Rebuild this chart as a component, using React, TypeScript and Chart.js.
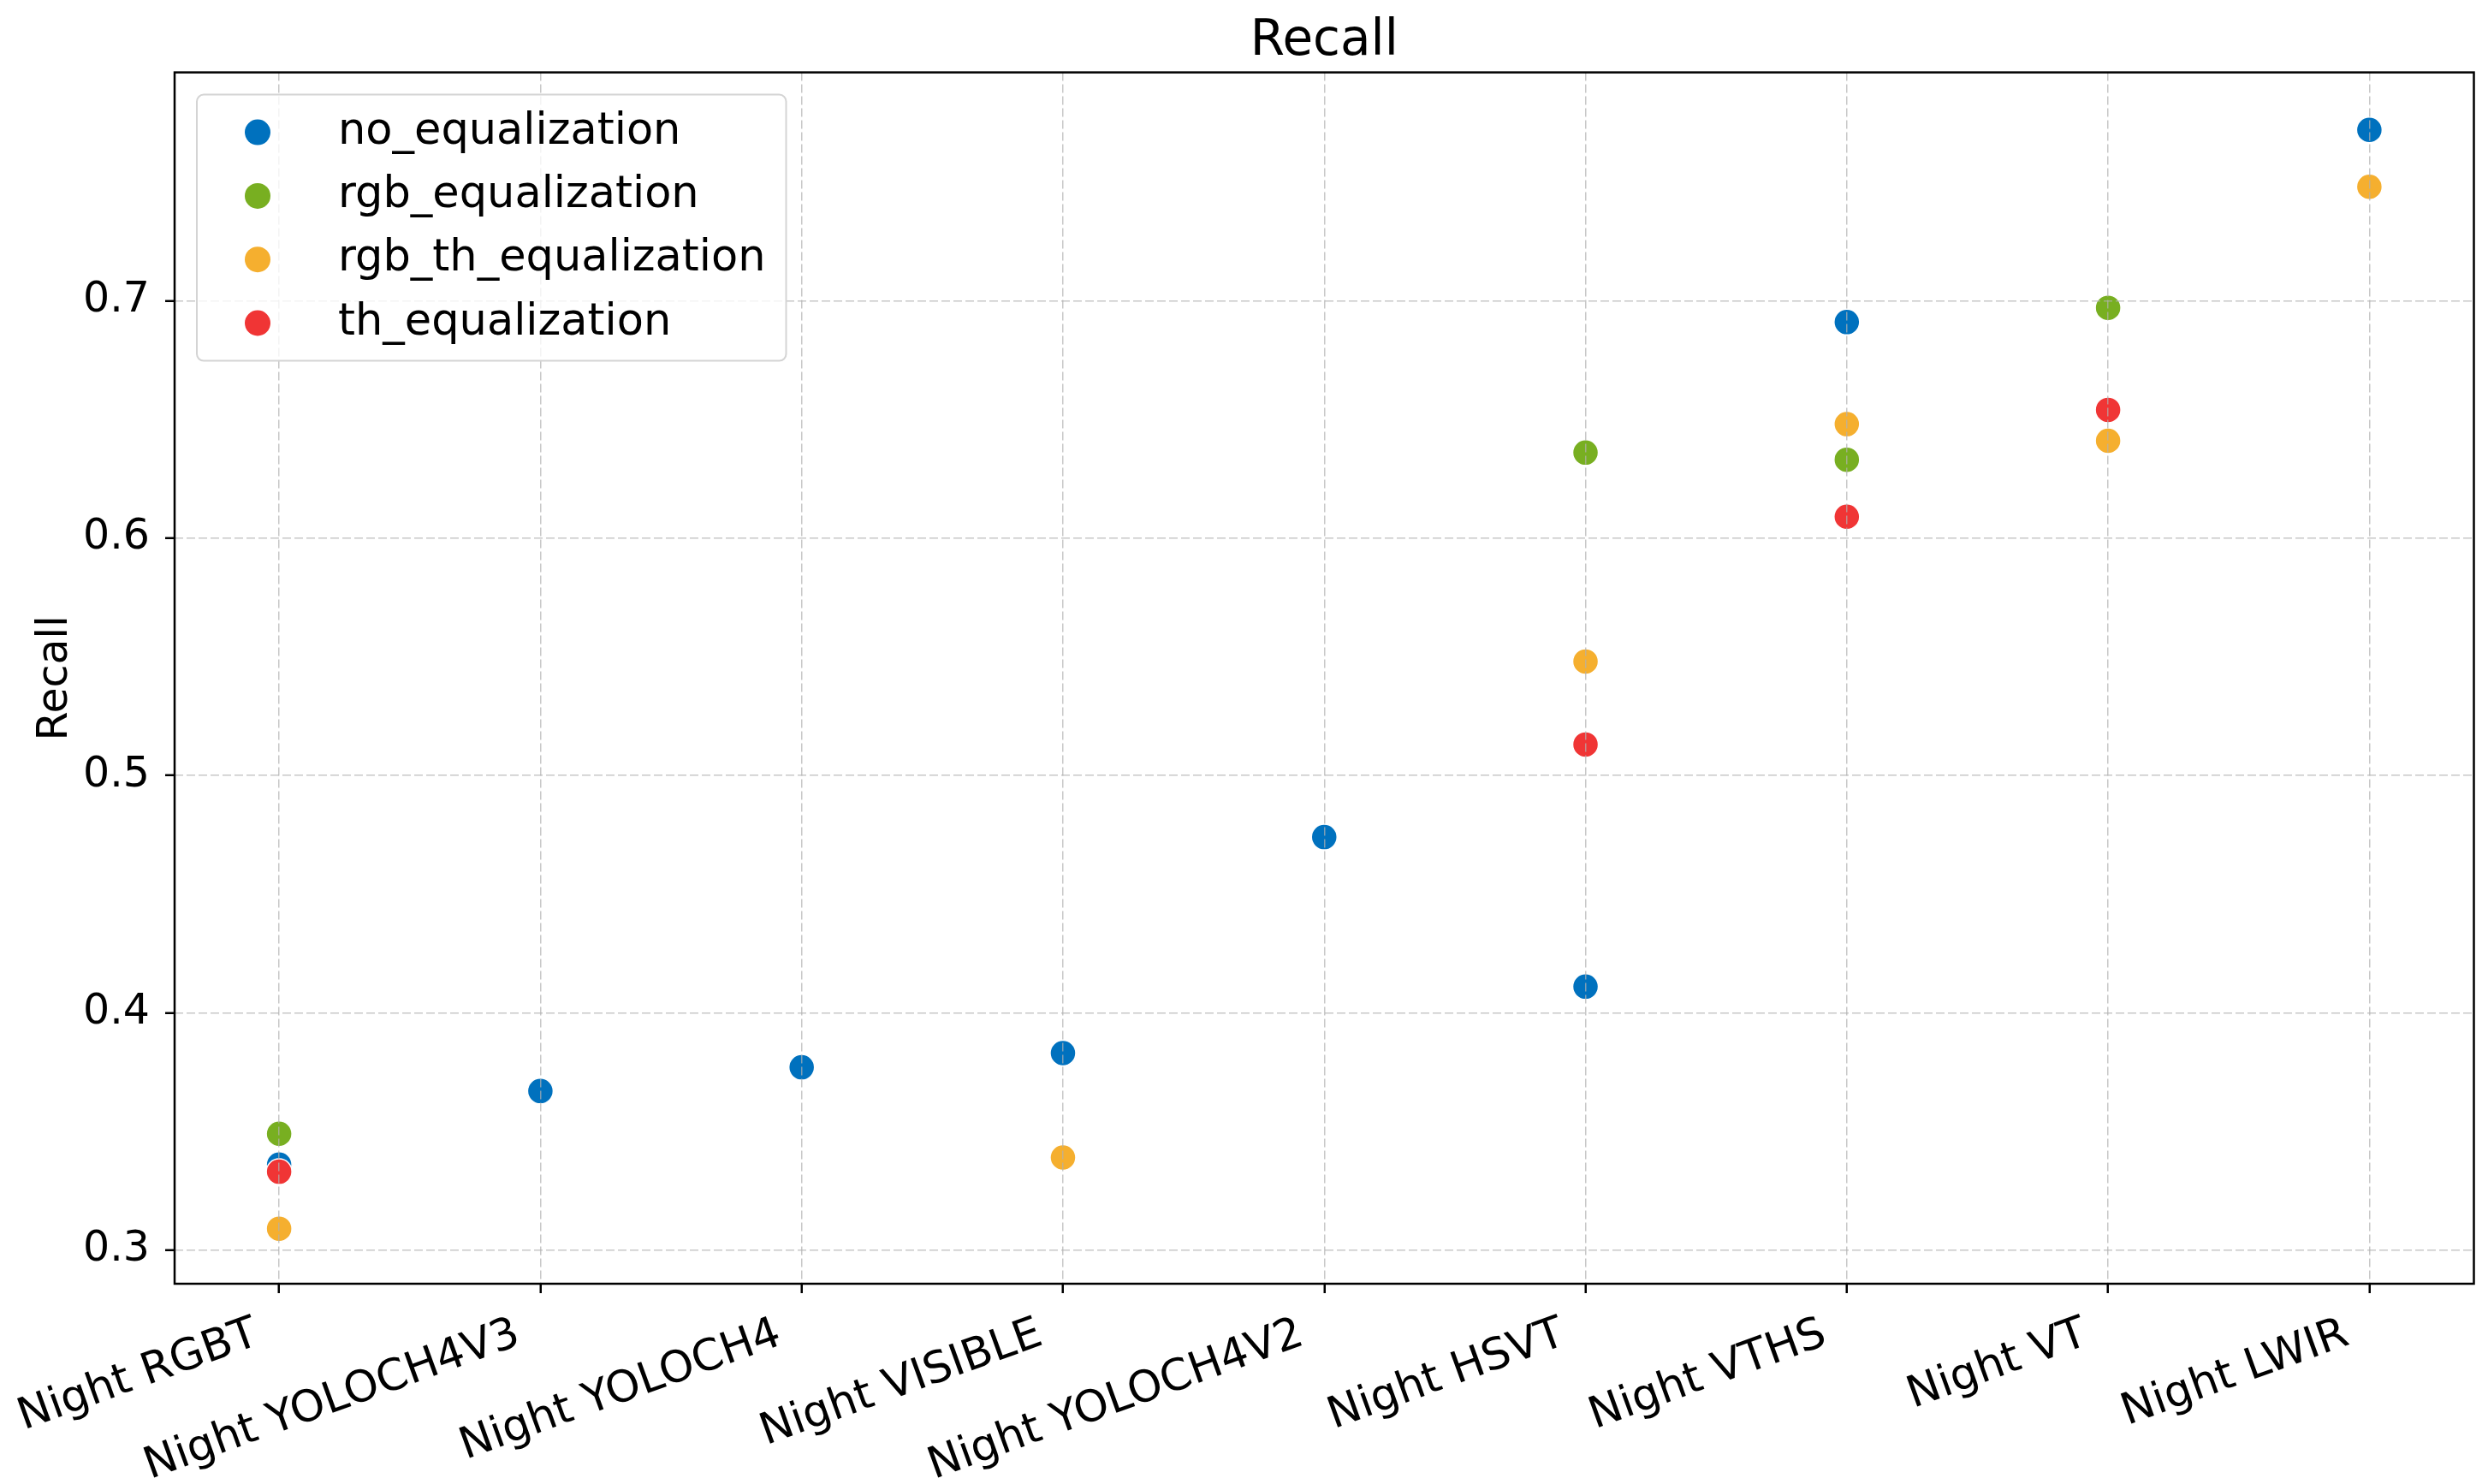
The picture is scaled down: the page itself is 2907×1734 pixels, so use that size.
import React, { useEffect, useRef } from 'react';
import { Chart, registerables } from 'chart.js';

Chart.register(...registerables);

const CATEGORIES = [
  'Night RGBT',
  'Night YOLOCH4V3',
  'Night YOLOCH4',
  'Night VISIBLE',
  'Night YOLOCH4V2',
  'Night HSVT',
  'Night VTHS',
  'Night VT',
  'Night LWIR',
];

const SERIES_NAMES = ['no_equalization', 'rgb_equalization', 'rgb_th_equalization', 'th_equalization'];

const NO_EQUALIZATION = [0.336, 0.367, 0.377, 0.383, 0.474, 0.411, 0.691, null, 0.772];
const RGB_EQUALIZATION = [0.349, null, null, null, null, 0.636, 0.633, 0.697, null];
const RGB_TH_EQUALIZATION = [0.309, null, null, 0.339, null, 0.548, 0.648, 0.641, 0.748];
const TH_EQUALIZATION = [0.333, null, null, null, null, 0.513, 0.609, 0.654, null];

const SERIES_COLORS = ['#0071BE', '#78AF21', '#F5AF2F', '#F03535'];

const Y_TICKS = [0.3, 0.4, 0.5, 0.6, 0.7];
const Y_MIN = 0.2858;
const Y_MAX = 0.7962;
const X_MIN = -0.4;
const X_MAX = 8.4;

const W = 2907;
const H = 1734;
const FONT = '"DejaVu Sans", "Liberation Sans", sans-serif';

const framePlugin = {
  id: 'frame',
  afterDraw(chart: any) {
    const { ctx, chartArea } = chart;
    ctx.save();
    ctx.strokeStyle = '#000';
    ctx.lineWidth = 2.5;
    ctx.strokeRect(chartArea.left, chartArea.top, chartArea.right - chartArea.left, chartArea.bottom - chartArea.top);
    ctx.restore();
  },
};

const legendPlugin = {
  id: 'innerLegend',
  afterDraw(chart: any) {
    const { ctx, chartArea } = chart;
    const ds = chart.data.datasets;
    ctx.save();
    ctx.font = `51px ${FONT}`;
    const textX = 165;
    const padR = 24;
    let maxW = 0;
    ds.forEach((d: any) => {
      maxW = Math.max(maxW, ctx.measureText(d.label).width);
    });
    const bx = chartArea.left + 26;
    const by = chartArea.top + 26;
    const bw = textX + maxW + padR;
    const bh = 311;
    const r = 8;
    ctx.beginPath();
    ctx.moveTo(bx + r, by);
    ctx.lineTo(bx + bw - r, by);
    ctx.arcTo(bx + bw, by, bx + bw, by + r, r);
    ctx.lineTo(bx + bw, by + bh - r);
    ctx.arcTo(bx + bw, by + bh, bx + bw - r, by + bh, r);
    ctx.lineTo(bx + r, by + bh);
    ctx.arcTo(bx, by + bh, bx, by + bh - r, r);
    ctx.lineTo(bx, by + r);
    ctx.arcTo(bx, by, bx + r, by, r);
    ctx.closePath();
    ctx.fillStyle = 'rgba(255,255,255,0.8)';
    ctx.fill();
    ctx.strokeStyle = '#d4d4d4';
    ctx.lineWidth = 2;
    ctx.stroke();
    ds.forEach((d: any, i: number) => {
      const cy = by + 44 + i * 74.3;
      ctx.beginPath();
      ctx.arc(bx + 71, cy, 15, 0, Math.PI * 2);
      ctx.fillStyle = d.backgroundColor;
      ctx.fill();
      ctx.fillStyle = '#000';
      ctx.textAlign = 'left';
      ctx.textBaseline = 'alphabetic';
      ctx.fillText(d.label, bx + textX, cy + 13);
    });
    ctx.restore();
  },
};

export default function App() {
  const canvasRef = useRef<HTMLCanvasElement | null>(null);

  useEffect(() => {
    const canvas = canvasRef.current;
    if (!canvas) return;
    Chart.defaults.font.family = FONT;
    Chart.defaults.color = '#000';

    const series = [NO_EQUALIZATION, RGB_EQUALIZATION, RGB_TH_EQUALIZATION, TH_EQUALIZATION];
    const datasets = SERIES_NAMES.map((name, i) => ({
      label: name,
      data: CATEGORIES.map((_, j) => (series[i][j] == null ? null : { x: j, y: series[i][j] as number })).filter(
        (p) => p !== null
      ),
      backgroundColor: SERIES_COLORS[i],
      borderColor: '#ffffff',
      borderWidth: 1.5,
      pointRadius: 15,
      pointHoverRadius: 15,
      order: series.length - i,
    }));

    const gridCommon = {
      color: 'rgba(176,176,176,0.7)',
      lineWidth: 1.5,
      z: 1,
      drawTicks: true,
      tickLength: 11,
      tickColor: '#000',
      tickWidth: 2.5,
      tickBorderDash: [],
    };
    const borderCommon = { display: false, color: '#000', width: 2.5, dash: [10, 4] };

    const chart = new Chart(canvas, {
      type: 'scatter',
      data: { datasets: datasets as any },
      plugins: [framePlugin, legendPlugin],
      options: {
        animation: false,
        responsive: false,
        maintainAspectRatio: false,
        devicePixelRatio: 1,
        layout: { padding: { left: 0, right: 14, top: 0, bottom: 0 } },
        plugins: {
          legend: { display: false },
          tooltip: { enabled: false },
          title: {
            display: true,
            text: 'Recall',
            fullSize: false,
            color: '#000',
            font: { size: 58, weight: 'normal', family: FONT },
            padding: { top: 14, bottom: 1 },
          },
        },
        scales: {
          x: {
            type: 'linear',
            min: X_MIN,
            max: X_MAX,
            afterBuildTicks: (s: any) => {
              s.ticks = CATEGORIES.map((_, i) => ({ value: i }));
            },
            afterFit: (s: any) => {
              s.height = 234;
            },
            ticks: {
              autoSkip: false,
              minRotation: 20,
              maxRotation: 20,
              padding: 18,
              labelOffset: -26,
              color: '#000',
              font: { size: 51, family: FONT },
              callback: (v: any) => CATEGORIES[Math.round(Number(v))],
            },
            grid: gridCommon as any,
            border: borderCommon as any,
          },
          y: {
            type: 'linear',
            min: Y_MIN,
            max: Y_MAX,
            afterBuildTicks: (s: any) => {
              s.ticks = Y_TICKS.map((v) => ({ value: v }));
            },
            afterFit: (s: any) => {
              s.width = 204;
            },
            ticks: {
              padding: 18,
              color: '#000',
              font: { size: 49, family: FONT },
              callback: (v: any) => Number(v).toFixed(1),
            },
            grid: gridCommon as any,
            border: borderCommon as any,
            title: {
              display: true,
              text: 'Recall',
              color: '#000',
              font: { size: 49, family: FONT },
              padding: { top: 36, bottom: 0 },
            },
          },
        },
      } as any,
    });
    return () => chart.destroy();
  }, []);

  return (
    <div style={{ position: 'fixed', left: 0, top: 0, width: W, height: H, background: '#fff' }}>
      <canvas ref={canvasRef} width={W} height={H} style={{ width: W, height: H, display: 'block' }} />
    </div>
  );
}
